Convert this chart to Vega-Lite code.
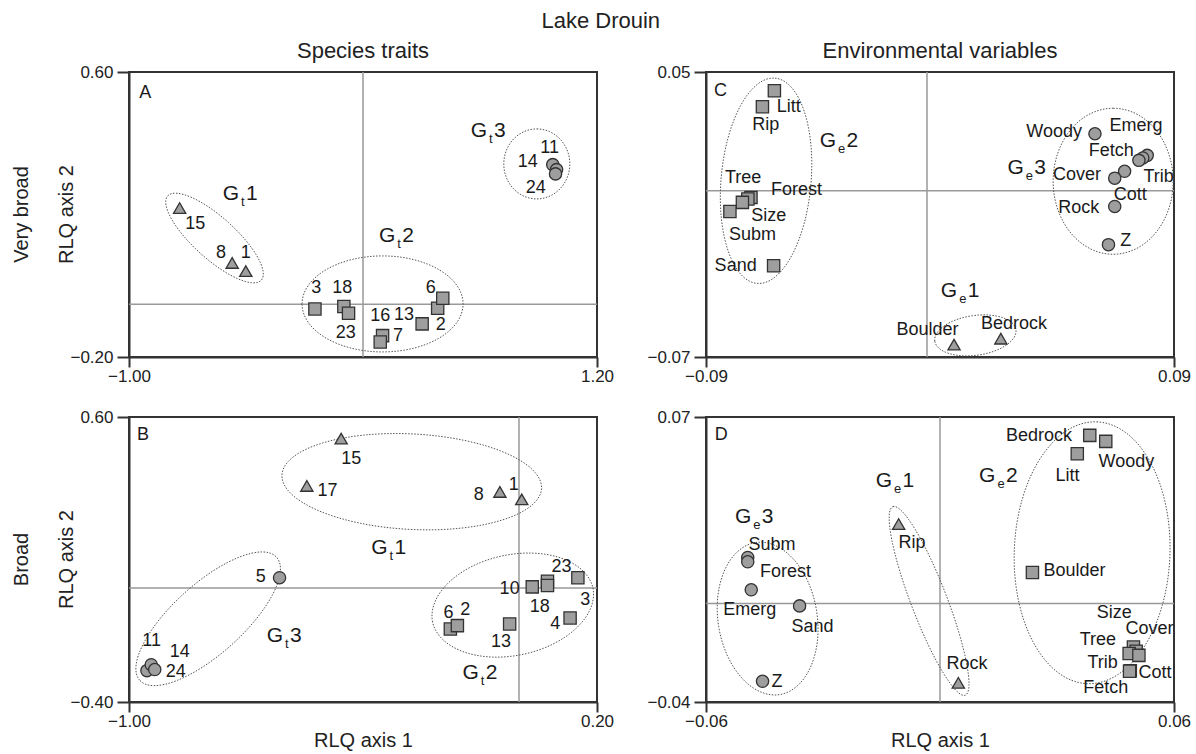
{
"$schema":"https://vega.github.io/schema/vega-lite/v6.json",
"background":"white",
"padding":{"left":10,"top":10,"right":5,"bottom":2},
"title":{"text":"Lake Drouin","fontSize":22,"fontWeight":"normal","color":"#222","offset":6,"anchor":"middle"},
"config":{
 "font":"Liberation Sans",
 "view":{"stroke":"#333","strokeWidth":2},
 "axis":{"grid":false,"domainColor":"#333","domainWidth":2,"tickColor":"#333","tickWidth":2,"labelFontSize":17,"labelColor":"#222","titleFontSize":20,"titleFontWeight":"normal","titleColor":"#222","labelFlush":false},
 "axisX":{"tickSize":10,"labelPadding":1},
 "axisY":{"tickSize":12,"labelPadding":4},
 "title":{"fontWeight":"normal"}
},
"datasets":{
 "pts":[
  {"p":"A","n":"15","k":"tri","x":-0.762,"y":0.218},{"p":"A","n":"8","k":"tri","x":-0.515,"y":0.064},{"p":"A","n":"1","k":"tri","x":-0.451,"y":0.041},
  {"p":"A","n":"3","k":"sq","x":-0.126,"y":-0.065},{"p":"A","n":"18","k":"sq","x":0.010,"y":-0.058},{"p":"A","n":"23","k":"sq","x":0.032,"y":-0.077},{"p":"A","n":"16","k":"sq","x":0.192,"y":-0.140},{"p":"A","n":"7","k":"sq","x":0.181,"y":-0.158},{"p":"A","n":"13","k":"sq","x":0.378,"y":-0.107},{"p":"A","n":"2","k":"sq","x":0.451,"y":-0.063},{"p":"A","n":"6","k":"sq","x":0.475,"y":-0.035},
  {"p":"A","n":"11","k":"ci","x":0.992,"y":0.340},{"p":"A","n":"14","k":"ci","x":1.010,"y":0.326},{"p":"A","n":"24","k":"ci","x":1.005,"y":0.314},
  {"p":"C","n":"Litt","k":"sq","x":-0.0637,"y":0.0421},{"p":"C","n":"Rip","k":"sq","x":-0.0683,"y":0.0354},{"p":"C","n":"Tree","k":"sq","x":-0.0727,"y":-0.0028},{"p":"C","n":"Forest","k":"sq","x":-0.0739,"y":-0.0035},{"p":"C","n":"Size","k":"sq","x":-0.0760,"y":-0.0049},{"p":"C","n":"Subm","k":"sq","x":-0.0808,"y":-0.0087},{"p":"C","n":"Sand","k":"sq","x":-0.064,"y":-0.0316},
  {"p":"C","n":"Boulder","k":"tri","x":0.0054,"y":-0.0648},{"p":"C","n":"Bedrock","k":"tri","x":0.0234,"y":-0.0623},
  {"p":"C","n":"Woody","k":"ci","x":0.0596,"y":0.024},{"p":"C","n":"Emerg","k":"ci","x":0.0797,"y":0.0149},{"p":"C","n":"Fetch","k":"ci","x":0.078,"y":0.0138},{"p":"C","n":"Trib","k":"ci","x":0.0765,"y":0.0128},{"p":"C","n":"Cott","k":"ci","x":0.071,"y":0.0082},{"p":"C","n":"Cover","k":"ci","x":0.0672,"y":0.0053},{"p":"C","n":"Rock","k":"ci","x":0.0672,"y":-0.0066},{"p":"C","n":"Z","k":"ci","x":0.0648,"y":-0.0227},
  {"p":"B","n":"15","k":"tri","x":-0.456,"y":0.524},{"p":"B","n":"17","k":"tri","x":-0.544,"y":0.358},{"p":"B","n":"8","k":"tri","x":-0.049,"y":0.337},{"p":"B","n":"1","k":"tri","x":0.007,"y":0.311},
  {"p":"B","n":"5","k":"ci","x":-0.614,"y":0.036},{"p":"B","n":"14","k":"ci","x":-0.954,"y":-0.290},{"p":"B","n":"11","k":"ci","x":-0.943,"y":-0.269},{"p":"B","n":"24","k":"ci","x":-0.934,"y":-0.286},
  {"p":"B","n":"6","k":"sq","x":-0.176,"y":-0.144},{"p":"B","n":"2","k":"sq","x":-0.158,"y":-0.132},{"p":"B","n":"13","k":"sq","x":-0.024,"y":-0.126},{"p":"B","n":"10","k":"sq","x":0.034,"y":0.004},{"p":"B","n":"23","k":"sq","x":0.073,"y":0.024},{"p":"B","n":"18","k":"sq","x":0.073,"y":0.009},{"p":"B","n":"3","k":"sq","x":0.151,"y":0.036},{"p":"B","n":"4","k":"sq","x":0.131,"y":-0.105},
  {"p":"D","n":"Bedrock","k":"sq","x":0.0384,"y":0.0629},{"p":"D","n":"Woody","k":"sq","x":0.0425,"y":0.0606},{"p":"D","n":"Litt","k":"sq","x":0.0352,"y":0.0558},{"p":"D","n":"Boulder","k":"sq","x":0.0237,"y":0.01},{"p":"D","n":"Size","k":"sq","x":0.0496,"y":-0.0188},{"p":"D","n":"Cover","k":"sq","x":0.0503,"y":-0.0204},{"p":"D","n":"Tree","k":"sq","x":0.0485,"y":-0.0213},{"p":"D","n":"Trib","k":"sq","x":0.051,"y":-0.022},{"p":"D","n":"Fetch","k":"sq","x":0.0488,"y":-0.0279},{"p":"D","n":"Cott","k":"sq","x":0.0486,"y":-0.0281},
  {"p":"D","n":"Rip","k":"tri","x":-0.0106,"y":0.0287},{"p":"D","n":"Rock","k":"tri","x":0.0047,"y":-0.0326},
  {"p":"D","n":"Subm","k":"ci","x":-0.0493,"y":0.0158},{"p":"D","n":"Forest","k":"ci","x":-0.0493,"y":0.0141},{"p":"D","n":"Emerg","k":"ci","x":-0.0484,"y":0.0033},{"p":"D","n":"Sand","k":"ci","x":-0.036,"y":-0.0029},{"p":"D","n":"Z","k":"ci","x":-0.0455,"y":-0.032}
 ],
 "labs":[
  {"p":"A","t":"15","x":-0.688,"y":0.172},{"p":"A","t":"8","x":-0.567,"y":0.091},{"p":"A","t":"1","x":-0.451,"y":0.093},{"p":"A","t":"3","x":-0.120,"y":-0.007},{"p":"A","t":"18","x":0.002,"y":-0.005},{"p":"A","t":"23","x":0.019,"y":-0.133},{"p":"A","t":"16","x":0.181,"y":-0.086},{"p":"A","t":"13","x":0.293,"y":-0.082},{"p":"A","t":"7","x":0.265,"y":-0.142},{"p":"A","t":"2","x":0.466,"y":-0.110},{"p":"A","t":"6","x":0.419,"y":-0.005},{"p":"A","t":"11","x":0.977,"y":0.386},{"p":"A","t":"14","x":0.875,"y":0.347},{"p":"A","t":"24","x":0.912,"y":0.274},{"p":"A","t":"A","x":-0.924,"y":0.542},
  {"p":"C","t":"Litt","x":-0.0582,"y":0.0354},{"p":"C","t":"Rip","x":-0.067,"y":0.0275},{"p":"C","t":"Tree","x":-0.0757,"y":0.0054},{"p":"C","t":"Forest","x":-0.0552,"y":0.0003},{"p":"C","t":"Size","x":-0.0659,"y":-0.0108},{"p":"C","t":"Subm","x":-0.0721,"y":-0.0188},{"p":"C","t":"Sand","x":-0.0786,"y":-0.0316},{"p":"C","t":"Boulder","x":-0.0048,"y":-0.0585},{"p":"C","t":"Bedrock","x":0.0285,"y":-0.0561},{"p":"C","t":"Woody","x":0.0439,"y":0.0246},{"p":"C","t":"Emerg","x":0.0754,"y":0.0271},{"p":"C","t":"Fetch","x":0.0659,"y":0.0166},{"p":"C","t":"Cover","x":0.0527,"y":0.0068},{"p":"C","t":"Trib","x":0.0841,"y":0.0058},{"p":"C","t":"Cott","x":0.0732,"y":-0.0017},{"p":"C","t":"Rock","x":0.0534,"y":-0.0073},{"p":"C","t":"Z","x":0.0714,"y":-0.021},{"p":"C","t":"C","x":-0.0844,"y":0.0421},
  {"p":"B","t":"15","x":-0.430,"y":0.451},{"p":"B","t":"17","x":-0.491,"y":0.339},{"p":"B","t":"8","x":-0.103,"y":0.328},{"p":"B","t":"1","x":-0.0135,"y":0.36},{"p":"B","t":"5","x":-0.662,"y":0.039},{"p":"B","t":"11","x":-0.942,"y":-0.187},{"p":"B","t":"14","x":-0.870,"y":-0.224},{"p":"B","t":"24","x":-0.880,"y":-0.295},{"p":"B","t":"6","x":-0.181,"y":-0.087},{"p":"B","t":"2","x":-0.138,"y":-0.078},{"p":"B","t":"13","x":-0.046,"y":-0.19},{"p":"B","t":"10","x":-0.024,"y":-0.005},{"p":"B","t":"18","x":0.053,"y":-0.066},{"p":"B","t":"23","x":0.109,"y":0.074},{"p":"B","t":"3","x":0.17,"y":-0.041},{"p":"B","t":"4","x":0.093,"y":-0.125},{"p":"B","t":"B","x":-0.964,"y":0.537},
  {"p":"D","t":"Bedrock","x":0.0254,"y":0.0625},{"p":"D","t":"Woody","x":0.0478,"y":0.0528},{"p":"D","t":"Litt","x":0.0327,"y":0.0471},{"p":"D","t":"Boulder","x":0.0345,"y":0.0104},{"p":"D","t":"Size","x":0.0447,"y":-0.0055},{"p":"D","t":"Cover","x":0.0537,"y":-0.0117},{"p":"D","t":"Tree","x":0.0405,"y":-0.0159},{"p":"D","t":"Trib","x":0.0417,"y":-0.0249},{"p":"D","t":"Cott","x":0.0551,"y":-0.0288},{"p":"D","t":"Fetch","x":0.0425,"y":-0.0346},{"p":"D","t":"Rip","x":-0.0072,"y":0.0213},{"p":"D","t":"Rock","x":0.0069,"y":-0.0255},{"p":"D","t":"Subm","x":-0.0431,"y":0.0206},{"p":"D","t":"Forest","x":-0.0396,"y":0.01},{"p":"D","t":"Emerg","x":-0.0488,"y":-0.0045},{"p":"D","t":"Sand","x":-0.0327,"y":-0.0111},{"p":"D","t":"Z","x":-0.0418,"y":-0.0324},{"p":"D","t":"D","x":-0.0561,"y":0.0632}
 ],
 "gl":[
  {"p":"A","s":"t","d":"1","x":-0.483,"y":0.241},{"p":"A","s":"t","d":"2","x":0.252,"y":0.123},{"p":"A","s":"t","d":"3","x":0.683,"y":0.417},
  {"p":"C","s":"e","d":"2","x":-0.04,"y":0.0183},{"p":"C","s":"e","d":"3","x":0.0322,"y":0.007},{"p":"C","s":"e","d":"1","x":0.0066,"y":-0.0449},
  {"p":"B","s":"t","d":"1","x":-0.337,"y":0.118},{"p":"B","s":"t","d":"2","x":-0.103,"y":-0.319},{"p":"B","s":"t","d":"3","x":-0.605,"y":-0.19},
  {"p":"D","s":"e","d":"1","x":-0.0123,"y":0.0429},{"p":"D","s":"e","d":"2","x":0.0142,"y":0.0448},{"p":"D","s":"e","d":"3","x":-0.0484,"y":0.0291}
 ],
 "grp":[
  {"p":"A","id":"A1","x":-0.598,"y":0.134},{"p":"A","id":"A2","x":0.192,"y":-0.051},{"p":"A","id":"A3","x":0.917,"y":0.342},
  {"p":"C","id":"C2","x":-0.0669,"y":0.0042},{"p":"C","id":"C3","x":0.0666,"y":0.004},{"p":"C","id":"C1","x":0.0136,"y":-0.0609},
  {"p":"B","id":"B1","x":-0.275,"y":0.373},{"p":"B","id":"B2","x":-0.016,"y":-0.06},{"p":"B","id":"B3","x":-0.797,"y":-0.108},
  {"p":"D","id":"D3","x":-0.0442,"y":-0.0078},{"p":"D","id":"D1","x":-0.0028,"y":-0.001},{"p":"D","id":"D2","x":0.039,"y":0.0176}
 ],
 "refs":[
  {"p":"A","x":0.1,"y":-0.052},{"p":"C","x":-0.005,"y":0},{"p":"B","x":0,"y":0},{"p":"D","x":0,"y":-0.002}
 ]
},
"bounds":"flush",
"columns":2,
"spacing":{"row":60,"column":109},
"concat":[
  {"width":468,"height":285,
   "title":{"text":"Species traits","fontSize":22,"color":"#222","offset":0},
   "resolve":{"scale":{"shape":"independent"}},
   "layer":[
    {"data":{"name":"refs"},"transform":[{"filter":"datum.p==='A'"}],"mark":{"type":"rule","color":"#999","strokeWidth":1.5},
     "encoding":{"x":{"field":"x","type":"quantitative","scale":{"domain":[-1,1.2],"nice":false,"zero":false},"axis":{"values":[-1,1.2],"format":".2f","title":null}}}},
    {"data":{"name":"refs"},"transform":[{"filter":"datum.p==='A'"}],"mark":{"type":"rule","color":"#999","strokeWidth":1.5},
     "encoding":{"y":{"field":"y","type":"quantitative","scale":{"domain":[-0.2,0.6],"nice":false,"zero":false},"axis":{"values":[-0.2,0.6],"format":".2f","title":["Very broad","RLQ axis 2"],"titleLineHeight":45,"titleBaseline":"middle","titleAlign":"center","titleX":-108,"titleY":142}}}},
    {"data":{"name":"grp"},"transform":[{"filter":"datum.p==='A'"}],"mark":{"type":"point","filled":false,"size":40000,"color":"#555","strokeWidth":1,"strokeDash":[1.5,1.5],"opacity":1},
     "encoding":{"x":{"field":"x","type":"quantitative","scale":{"domain":[-1,1.2],"nice":false,"zero":false}},"y":{"field":"y","type":"quantitative","scale":{"domain":[-0.2,0.6],"nice":false,"zero":false}},
      "shape":{"field":"id","type":"nominal","legend":null,"scale":{"domain":["A1","A2","A3"],"range":["M -0.4682 -0.4215 A 0.63 0.21 42 0 1 0.4682 0.4215 A 0.63 0.21 42 0 1 -0.4682 -0.4215 Z","M -0.805 0 A 0.805 0.48 0 0 1 0.805 0 A 0.805 0.48 0 0 1 -0.805 0 Z","M 0 -0.35 A 0.35 0.33 90 0 1 0 0.35 A 0.35 0.33 90 0 1 0 -0.35 Z"]}}}},
    {"data":{"name":"pts"},"transform":[{"filter":"datum.p==='A'"}],"mark":{"type":"point","filled":true,"fill":"#9e9e9e","stroke":"#333","strokeWidth":1.3,"size":150,"opacity":1},
     "encoding":{"x":{"field":"x","type":"quantitative","scale":{"domain":[-1,1.2],"nice":false,"zero":false}},"y":{"field":"y","type":"quantitative","scale":{"domain":[-0.2,0.6],"nice":false,"zero":false}},
      "shape":{"field":"k","type":"nominal","legend":null,"scale":{"domain":["tri","sq","ci"],"range":["triangle-up","square","circle"]}}}},
    {"data":{"name":"labs"},"transform":[{"filter":"datum.p==='A'"}],"mark":{"type":"text","fontSize":18,"color":"#1a1a1a","align":"center","baseline":"middle"},
     "encoding":{"x":{"field":"x","type":"quantitative","scale":{"domain":[-1,1.2],"nice":false,"zero":false}},"y":{"field":"y","type":"quantitative","scale":{"domain":[-0.2,0.6],"nice":false,"zero":false}},"text":{"field":"t"}}},
    {"data":{"name":"gl"},"transform":[{"filter":"datum.p==='A'"}],"mark":{"type":"text","text":"G","fontSize":21,"color":"#1a1a1a","align":"right","baseline":"alphabetic"},
     "encoding":{"x":{"field":"x","type":"quantitative","scale":{"domain":[-1,1.2],"nice":false,"zero":false}},"y":{"field":"y","type":"quantitative","scale":{"domain":[-0.2,0.6],"nice":false,"zero":false}}}},
    {"data":{"name":"gl"},"transform":[{"filter":"datum.p==='A'"}],"mark":{"type":"text","fontSize":13,"color":"#1a1a1a","align":"left","baseline":"alphabetic","dx":2,"dy":6},
     "encoding":{"x":{"field":"x","type":"quantitative","scale":{"domain":[-1,1.2],"nice":false,"zero":false}},"y":{"field":"y","type":"quantitative","scale":{"domain":[-0.2,0.6],"nice":false,"zero":false}},"text":{"field":"s"}}},
    {"data":{"name":"gl"},"transform":[{"filter":"datum.p==='A'"}],"mark":{"type":"text","fontSize":21,"color":"#1a1a1a","align":"left","baseline":"alphabetic","dx":7},
     "encoding":{"x":{"field":"x","type":"quantitative","scale":{"domain":[-1,1.2],"nice":false,"zero":false}},"y":{"field":"y","type":"quantitative","scale":{"domain":[-0.2,0.6],"nice":false,"zero":false}},"text":{"field":"d"}}}
   ]},
  {"width":468,"height":285,
   "title":{"text":"Environmental variables","fontSize":22,"color":"#222","offset":0},
   "resolve":{"scale":{"shape":"independent"}},
   "layer":[
    {"data":{"name":"refs"},"transform":[{"filter":"datum.p==='C'"}],"mark":{"type":"rule","color":"#999","strokeWidth":1.5},
     "encoding":{"x":{"field":"x","type":"quantitative","scale":{"domain":[-0.09,0.09],"nice":false,"zero":false},"axis":{"values":[-0.09,0.09],"format":".2f","title":null}}}},
    {"data":{"name":"refs"},"transform":[{"filter":"datum.p==='C'"}],"mark":{"type":"rule","color":"#999","strokeWidth":1.5},
     "encoding":{"y":{"field":"y","type":"quantitative","scale":{"domain":[-0.07,0.05],"nice":false,"zero":false},"axis":{"values":[-0.07,0.05],"format":".2f","title":null}}}},
    {"data":{"name":"grp"},"transform":[{"filter":"datum.p==='C'"}],"mark":{"type":"point","filled":false,"size":40000,"color":"#555","strokeWidth":1,"strokeDash":[1.5,1.5],"opacity":1},
     "encoding":{"x":{"field":"x","type":"quantitative","scale":{"domain":[-0.09,0.09],"nice":false,"zero":false}},"y":{"field":"y","type":"quantitative","scale":{"domain":[-0.07,0.05],"nice":false,"zero":false}},
      "shape":{"field":"id","type":"nominal","legend":null,"scale":{"domain":["C1","C2","C3"],"range":["M -0.406 0.0571 A 0.41 0.2 -8 0 1 0.406 -0.0571 A 0.41 0.2 -8 0 1 -0.406 0.0571 Z","M 0.0898 -1.0261 A 1.03 0.45 95 0 1 -0.0898 1.0261 A 1.03 0.45 95 0 1 0.0898 -1.0261 Z","M 0 -0.73 A 0.73 0.6 90 0 1 0 0.73 A 0.73 0.6 90 0 1 0 -0.73 Z"]}}}},
    {"data":{"name":"pts"},"transform":[{"filter":"datum.p==='C'"}],"mark":{"type":"point","filled":true,"fill":"#9e9e9e","stroke":"#333","strokeWidth":1.3,"size":150,"opacity":1},
     "encoding":{"x":{"field":"x","type":"quantitative","scale":{"domain":[-0.09,0.09],"nice":false,"zero":false}},"y":{"field":"y","type":"quantitative","scale":{"domain":[-0.07,0.05],"nice":false,"zero":false}},
      "shape":{"field":"k","type":"nominal","legend":null,"scale":{"domain":["tri","sq","ci"],"range":["triangle-up","square","circle"]}}}},
    {"data":{"name":"labs"},"transform":[{"filter":"datum.p==='C'"}],"mark":{"type":"text","fontSize":18,"color":"#1a1a1a","align":"center","baseline":"middle"},
     "encoding":{"x":{"field":"x","type":"quantitative","scale":{"domain":[-0.09,0.09],"nice":false,"zero":false}},"y":{"field":"y","type":"quantitative","scale":{"domain":[-0.07,0.05],"nice":false,"zero":false}},"text":{"field":"t"}}},
    {"data":{"name":"gl"},"transform":[{"filter":"datum.p==='C'"}],"mark":{"type":"text","text":"G","fontSize":21,"color":"#1a1a1a","align":"right","baseline":"alphabetic"},
     "encoding":{"x":{"field":"x","type":"quantitative","scale":{"domain":[-0.09,0.09],"nice":false,"zero":false}},"y":{"field":"y","type":"quantitative","scale":{"domain":[-0.07,0.05],"nice":false,"zero":false}}}},
    {"data":{"name":"gl"},"transform":[{"filter":"datum.p==='C'"}],"mark":{"type":"text","fontSize":13,"color":"#1a1a1a","align":"left","baseline":"alphabetic","dx":2,"dy":6},
     "encoding":{"x":{"field":"x","type":"quantitative","scale":{"domain":[-0.09,0.09],"nice":false,"zero":false}},"y":{"field":"y","type":"quantitative","scale":{"domain":[-0.07,0.05],"nice":false,"zero":false}},"text":{"field":"s"}}},
    {"data":{"name":"gl"},"transform":[{"filter":"datum.p==='C'"}],"mark":{"type":"text","fontSize":21,"color":"#1a1a1a","align":"left","baseline":"alphabetic","dx":10.5},
     "encoding":{"x":{"field":"x","type":"quantitative","scale":{"domain":[-0.09,0.09],"nice":false,"zero":false}},"y":{"field":"y","type":"quantitative","scale":{"domain":[-0.07,0.05],"nice":false,"zero":false}},"text":{"field":"d"}}}
   ]},
  {"width":468,"height":285,
   "resolve":{"scale":{"shape":"independent"}},
   "layer":[
    {"data":{"name":"refs"},"transform":[{"filter":"datum.p==='B'"}],"mark":{"type":"rule","color":"#999","strokeWidth":1.5},
     "encoding":{"x":{"field":"x","type":"quantitative","scale":{"domain":[-1,0.2],"nice":false,"zero":false},"axis":{"values":[-1,0.2],"format":".2f","title":"RLQ axis 1","titlePadding":1}}}},
    {"data":{"name":"refs"},"transform":[{"filter":"datum.p==='B'"}],"mark":{"type":"rule","color":"#999","strokeWidth":1.5},
     "encoding":{"y":{"field":"y","type":"quantitative","scale":{"domain":[-0.4,0.6],"nice":false,"zero":false},"axis":{"values":[-0.4,0.6],"format":".2f","title":["Broad","RLQ axis 2"],"titleLineHeight":45,"titleBaseline":"middle","titleAlign":"center","titleX":-108,"titleY":142}}}},
    {"data":{"name":"grp"},"transform":[{"filter":"datum.p==='B'"}],"mark":{"type":"point","filled":false,"size":40000,"color":"#555","strokeWidth":1,"strokeDash":[1.5,1.5],"opacity":1},
     "encoding":{"x":{"field":"x","type":"quantitative","scale":{"domain":[-1,0.2],"nice":false,"zero":false}},"y":{"field":"y","type":"quantitative","scale":{"domain":[-0.4,0.6],"nice":false,"zero":false}},
      "shape":{"field":"id","type":"nominal","legend":null,"scale":{"domain":["B1","B2","B3"],"range":["M -1.2982 -0.068 A 1.3 0.48 3 0 1 1.2982 0.068 A 1.3 0.48 3 0 1 -1.2982 -0.068 Z","M -0.802 0.1705 A 0.82 0.51 -12 0 1 0.802 -0.1705 A 0.82 0.51 -12 0 1 -0.802 0.1705 Z","M -0.6837 0.6156 A 0.92 0.35 -42 0 1 0.6837 -0.6156 A 0.92 0.35 -42 0 1 -0.6837 0.6156 Z"]}}}},
    {"data":{"name":"pts"},"transform":[{"filter":"datum.p==='B'"}],"mark":{"type":"point","filled":true,"fill":"#9e9e9e","stroke":"#333","strokeWidth":1.3,"size":150,"opacity":1},
     "encoding":{"x":{"field":"x","type":"quantitative","scale":{"domain":[-1,0.2],"nice":false,"zero":false}},"y":{"field":"y","type":"quantitative","scale":{"domain":[-0.4,0.6],"nice":false,"zero":false}},
      "shape":{"field":"k","type":"nominal","legend":null,"scale":{"domain":["tri","sq","ci"],"range":["triangle-up","square","circle"]}}}},
    {"data":{"name":"labs"},"transform":[{"filter":"datum.p==='B'"}],"mark":{"type":"text","fontSize":18,"color":"#1a1a1a","align":"center","baseline":"middle"},
     "encoding":{"x":{"field":"x","type":"quantitative","scale":{"domain":[-1,0.2],"nice":false,"zero":false}},"y":{"field":"y","type":"quantitative","scale":{"domain":[-0.4,0.6],"nice":false,"zero":false}},"text":{"field":"t"}}},
    {"data":{"name":"gl"},"transform":[{"filter":"datum.p==='B'"}],"mark":{"type":"text","text":"G","fontSize":21,"color":"#1a1a1a","align":"right","baseline":"alphabetic"},
     "encoding":{"x":{"field":"x","type":"quantitative","scale":{"domain":[-1,0.2],"nice":false,"zero":false}},"y":{"field":"y","type":"quantitative","scale":{"domain":[-0.4,0.6],"nice":false,"zero":false}}}},
    {"data":{"name":"gl"},"transform":[{"filter":"datum.p==='B'"}],"mark":{"type":"text","fontSize":13,"color":"#1a1a1a","align":"left","baseline":"alphabetic","dx":2,"dy":6},
     "encoding":{"x":{"field":"x","type":"quantitative","scale":{"domain":[-1,0.2],"nice":false,"zero":false}},"y":{"field":"y","type":"quantitative","scale":{"domain":[-0.4,0.6],"nice":false,"zero":false}},"text":{"field":"s"}}},
    {"data":{"name":"gl"},"transform":[{"filter":"datum.p==='B'"}],"mark":{"type":"text","fontSize":21,"color":"#1a1a1a","align":"left","baseline":"alphabetic","dx":7},
     "encoding":{"x":{"field":"x","type":"quantitative","scale":{"domain":[-1,0.2],"nice":false,"zero":false}},"y":{"field":"y","type":"quantitative","scale":{"domain":[-0.4,0.6],"nice":false,"zero":false}},"text":{"field":"d"}}}
   ]},
  {"width":468,"height":285,
   "resolve":{"scale":{"shape":"independent"}},
   "layer":[
    {"data":{"name":"refs"},"transform":[{"filter":"datum.p==='D'"}],"mark":{"type":"rule","color":"#999","strokeWidth":1.5},
     "encoding":{"x":{"field":"x","type":"quantitative","scale":{"domain":[-0.06,0.06],"nice":false,"zero":false},"axis":{"values":[-0.06,0.06],"format":".2f","title":"RLQ axis 1","titlePadding":1}}}},
    {"data":{"name":"refs"},"transform":[{"filter":"datum.p==='D'"}],"mark":{"type":"rule","color":"#999","strokeWidth":1.5},
     "encoding":{"y":{"field":"y","type":"quantitative","scale":{"domain":[-0.04,0.07],"nice":false,"zero":false},"axis":{"values":[-0.04,0.07],"format":".2f","title":null}}}},
    {"data":{"name":"grp"},"transform":[{"filter":"datum.p==='D'"}],"mark":{"type":"point","filled":false,"size":40000,"color":"#555","strokeWidth":1,"strokeDash":[1.5,1.5],"opacity":1},
     "encoding":{"x":{"field":"x","type":"quantitative","scale":{"domain":[-0.06,0.06],"nice":false,"zero":false}},"y":{"field":"y","type":"quantitative","scale":{"domain":[-0.04,0.07],"nice":false,"zero":false}},
      "shape":{"field":"id","type":"nominal","legend":null,"scale":{"domain":["D1","D2","D3"],"range":["M -0.362 -0.9429 A 1.01 0.18 69 0 1 0.362 0.9429 A 1.01 0.18 69 0 1 -0.362 -0.9429 Z","M 0.0457 -1.3092 A 1.31 0.78 92 0 1 -0.0457 1.3092 A 1.31 0.78 92 0 1 0.0457 -1.3092 Z","M -0.1204 -0.7605 A 0.77 0.5 81 0 1 0.1204 0.7605 A 0.77 0.5 81 0 1 -0.1204 -0.7605 Z"]}}}},
    {"data":{"name":"pts"},"transform":[{"filter":"datum.p==='D'"}],"mark":{"type":"point","filled":true,"fill":"#9e9e9e","stroke":"#333","strokeWidth":1.3,"size":150,"opacity":1},
     "encoding":{"x":{"field":"x","type":"quantitative","scale":{"domain":[-0.06,0.06],"nice":false,"zero":false}},"y":{"field":"y","type":"quantitative","scale":{"domain":[-0.04,0.07],"nice":false,"zero":false}},
      "shape":{"field":"k","type":"nominal","legend":null,"scale":{"domain":["tri","sq","ci"],"range":["triangle-up","square","circle"]}}}},
    {"data":{"name":"labs"},"transform":[{"filter":"datum.p==='D'"}],"mark":{"type":"text","fontSize":18,"color":"#1a1a1a","align":"center","baseline":"middle"},
     "encoding":{"x":{"field":"x","type":"quantitative","scale":{"domain":[-0.06,0.06],"nice":false,"zero":false}},"y":{"field":"y","type":"quantitative","scale":{"domain":[-0.04,0.07],"nice":false,"zero":false}},"text":{"field":"t"}}},
    {"data":{"name":"gl"},"transform":[{"filter":"datum.p==='D'"}],"mark":{"type":"text","text":"G","fontSize":21,"color":"#1a1a1a","align":"right","baseline":"alphabetic"},
     "encoding":{"x":{"field":"x","type":"quantitative","scale":{"domain":[-0.06,0.06],"nice":false,"zero":false}},"y":{"field":"y","type":"quantitative","scale":{"domain":[-0.04,0.07],"nice":false,"zero":false}}}},
    {"data":{"name":"gl"},"transform":[{"filter":"datum.p==='D'"}],"mark":{"type":"text","fontSize":13,"color":"#1a1a1a","align":"left","baseline":"alphabetic","dx":2,"dy":6},
     "encoding":{"x":{"field":"x","type":"quantitative","scale":{"domain":[-0.06,0.06],"nice":false,"zero":false}},"y":{"field":"y","type":"quantitative","scale":{"domain":[-0.04,0.07],"nice":false,"zero":false}},"text":{"field":"s"}}},
    {"data":{"name":"gl"},"transform":[{"filter":"datum.p==='D'"}],"mark":{"type":"text","fontSize":21,"color":"#1a1a1a","align":"left","baseline":"alphabetic","dx":10.5},
     "encoding":{"x":{"field":"x","type":"quantitative","scale":{"domain":[-0.06,0.06],"nice":false,"zero":false}},"y":{"field":"y","type":"quantitative","scale":{"domain":[-0.04,0.07],"nice":false,"zero":false}},"text":{"field":"d"}}}
   ]}
]
}
